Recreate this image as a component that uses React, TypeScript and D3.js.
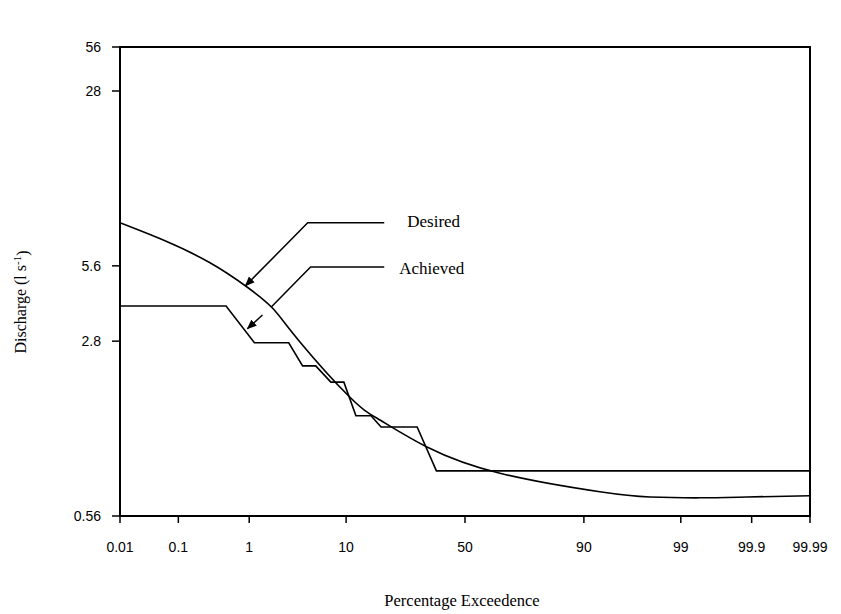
import React, { useRef, useEffect } from "react";
import * as d3 from "d3";

// percentage exceedence ticks and discharge ticks
const xTicks = [0.01, 0.1, 1, 10, 50, 90, 99, 99.9, 99.99];
const yTicks = [0.56, 2.8, 5.6, 28, 56];

// desired flow duration curve
const desiredP = [0.01, 0.061, 0.299, 0.939, 1.92, 3.76, 10.75, 17.98, 34.1, 64.7, 92.7, 97.7, 99.43, 99.88, 99.99];
const desiredQ = [8.32, 7.05, 5.76, 4.61, 3.78, 2.78, 1.67, 1.355, 1.057, 0.83, 0.70, 0.667, 0.662, 0.667, 0.675];

// achieved (stepped) curve vertices
const achievedP = [0.01, 0.5, 1.16, 2.87, 4.0, 5.38, 7.41, 9.58, 11.98, 15.55, 18.28, 30.3, 37.9, 99.99];
const achievedQ = [3.87, 3.87, 2.76, 2.76, 2.23, 2.23, 1.92, 1.92, 1.41, 1.41, 1.27, 1.27, 0.848, 0.848];

// inverse normal CDF (Acklam)
function probit(p: number): number {
    const a = [-39.6968302866538, 220.946098424521, -275.928510446969, 138.357751867269, -30.6647980661472, 2.50662827745924];
    const b = [-54.4760987982241, 161.585836858041, -155.698979859887, 66.8013118877197, -13.2806815528857];
    const c = [-0.00778489400243029, -0.322396458041136, -2.40075827716184, -2.54973253934373, 4.37466414146497, 2.93816398269878];
    const d = [0.00778469570904146, 0.32246712907004, 2.445134137143, 3.75440866190742];
    const pl = 0.02425;
    let q, r;
    if (p < pl) {
        q = Math.sqrt(-2 * Math.log(p));
        return (((((c[0] * q + c[1]) * q + c[2]) * q + c[3]) * q + c[4]) * q + c[5]) /
            ((((d[0] * q + d[1]) * q + d[2]) * q + d[3]) * q + 1);
    }
    if (p <= 1 - pl) {
        q = p - 0.5;
        r = q * q;
        return (((((a[0] * r + a[1]) * r + a[2]) * r + a[3]) * r + a[4]) * r + a[5]) * q /
            (((((b[0] * r + b[1]) * r + b[2]) * r + b[3]) * r + b[4]) * r + 1);
    }
    q = Math.sqrt(-2 * Math.log(1 - p));
    return -(((((c[0] * q + c[1]) * q + c[2]) * q + c[3]) * q + c[4]) * q + c[5]) /
        ((((d[0] * q + d[1]) * q + d[2]) * q + d[3]) * q + 1);
}

export default function App() {
    const ref = useRef<SVGSVGElement>(null);

    useEffect(() => {
        const width = 841, height = 614;
        const left = 120, right = 810, top = 47, bottom = 516;

        const svg = d3.select(ref.current);
        svg.selectAll("*").remove();
        svg.attr("width", width).attr("height", height);

        const zMax = probit(0.9999);
        const zx = d3.scaleLinear().domain([-zMax, zMax]).range([left, right]);
        const x = (p: number) => zx(probit(p / 100));
        const y = d3.scaleLog().domain([0.56, 28, 56]).range([bottom, 91, top]);

        const sans = "'Liberation Sans', Arial, sans-serif";
        const serif = "'Liberation Serif', 'Times New Roman', serif";

        // frame
        svg.append("rect")
            .attr("x", left).attr("y", top)
            .attr("width", right - left).attr("height", bottom - top)
            .attr("fill", "none").attr("stroke", "#000").attr("stroke-width", 2);

        // y ticks
        const yg = svg.append("g");
        yTicks.forEach(t => {
            yg.append("line")
                .attr("x1", left - 8).attr("x2", left)
                .attr("y1", y(t)).attr("y2", y(t))
                .attr("stroke", "#000").attr("stroke-width", 1.5);
            yg.append("text")
                .attr("x", left - 19).attr("y", y(t)).attr("dy", "0.35em")
                .attr("text-anchor", "end")
                .style("font-family", sans).style("font-size", "14px")
                .text(t);
        });

        // x ticks
        const xg = svg.append("g");
        xTicks.forEach(t => {
            xg.append("line")
                .attr("x1", x(t)).attr("x2", x(t))
                .attr("y1", bottom).attr("y2", bottom + 7)
                .attr("stroke", "#000").attr("stroke-width", 1.5);
            xg.append("text")
                .attr("x", x(t)).attr("y", 552)
                .attr("text-anchor", "middle")
                .style("font-family", sans).style("font-size", "14px")
                .text(t);
        });

        const desiredLine = d3.line<[number, number]>()
            .x(d => x(d[0]))
            .y(d => y(d[1]))
            .curve(d3.curveNatural);

        const stepLine = d3.line<[number, number]>()
            .x(d => x(d[0]))
            .y(d => y(d[1]));

        svg.append("path")
            .datum(desiredP.map((p, i) => [p, desiredQ[i]] as [number, number]))
            .attr("d", desiredLine)
            .attr("fill", "none").attr("stroke", "#000").attr("stroke-width", 1.6);

        svg.append("path")
            .datum(achievedP.map((p, i) => [p, achievedQ[i]] as [number, number]))
            .attr("d", stepLine)
            .attr("fill", "none").attr("stroke", "#000").attr("stroke-width", 1.6);

        // annotations
        const defs = svg.append("defs");
        defs.append("marker")
            .attr("id", "arrow")
            .attr("viewBox", "0 0 10 10")
            .attr("refX", 9).attr("refY", 5)
            .attr("markerWidth", 10).attr("markerHeight", 10)
            .attr("markerUnits", "userSpaceOnUse")
            .attr("orient", "auto")
            .append("path").attr("d", "M0,1 L10,5 L0,9 Z").attr("fill", "#000");

        const ann = d3.line<[number, number]>().x(d => x(d[0])).y(d => y(d[1]));

        svg.append("path")
            .datum([[19.2, 8.32], [4.5, 8.32], [0.897, 4.66]] as [number, number][])
            .attr("d", ann)
            .attr("fill", "none").attr("stroke", "#000").attr("stroke-width", 1.5)
            .attr("marker-end", "url(#arrow)");

        svg.append("path")
            .datum([[19.2, 5.54], [4.8, 5.54], [1.85, 3.84]] as [number, number][])
            .attr("d", ann)
            .attr("fill", "none").attr("stroke", "#000").attr("stroke-width", 1.5);

        svg.append("path")
            .datum([[1.45, 3.56], [0.95, 3.14]] as [number, number][])
            .attr("d", ann)
            .attr("fill", "none").attr("stroke", "#000").attr("stroke-width", 1.5)
            .attr("marker-end", "url(#arrow)");

        svg.append("text")
            .attr("x", x(19.2) + 23).attr("y", y(8.32) + 4)
            .style("font-family", serif).style("font-size", "17px")
            .text("Desired");
        svg.append("text")
            .attr("x", x(19.2) + 15).attr("y", y(5.54) + 7)
            .style("font-family", serif).style("font-size", "17px")
            .text("Achieved");

        // axis titles
        const yl = svg.append("text")
            .attr("transform", `translate(26,${302}) rotate(-90)`)
            .attr("text-anchor", "middle")
            .style("font-family", serif).style("font-size", "16px");
        yl.append("tspan").text("Discharge (l s");
        yl.append("tspan").attr("dy", "-0.45em").style("font-size", "11px").text("-1");
        yl.append("tspan").attr("dy", "0.45em").text(")");

        svg.append("text")
            .attr("x", 462).attr("y", 606)
            .attr("text-anchor", "middle")
            .style("font-family", serif).style("font-size", "16.5px")
            .text("Percentage Exceedence");
    }, []);

    return (
        <svg ref={ref} style={{ position: "absolute", left: 0, top: 0, background: "#fff" }}></svg>
    );
}
